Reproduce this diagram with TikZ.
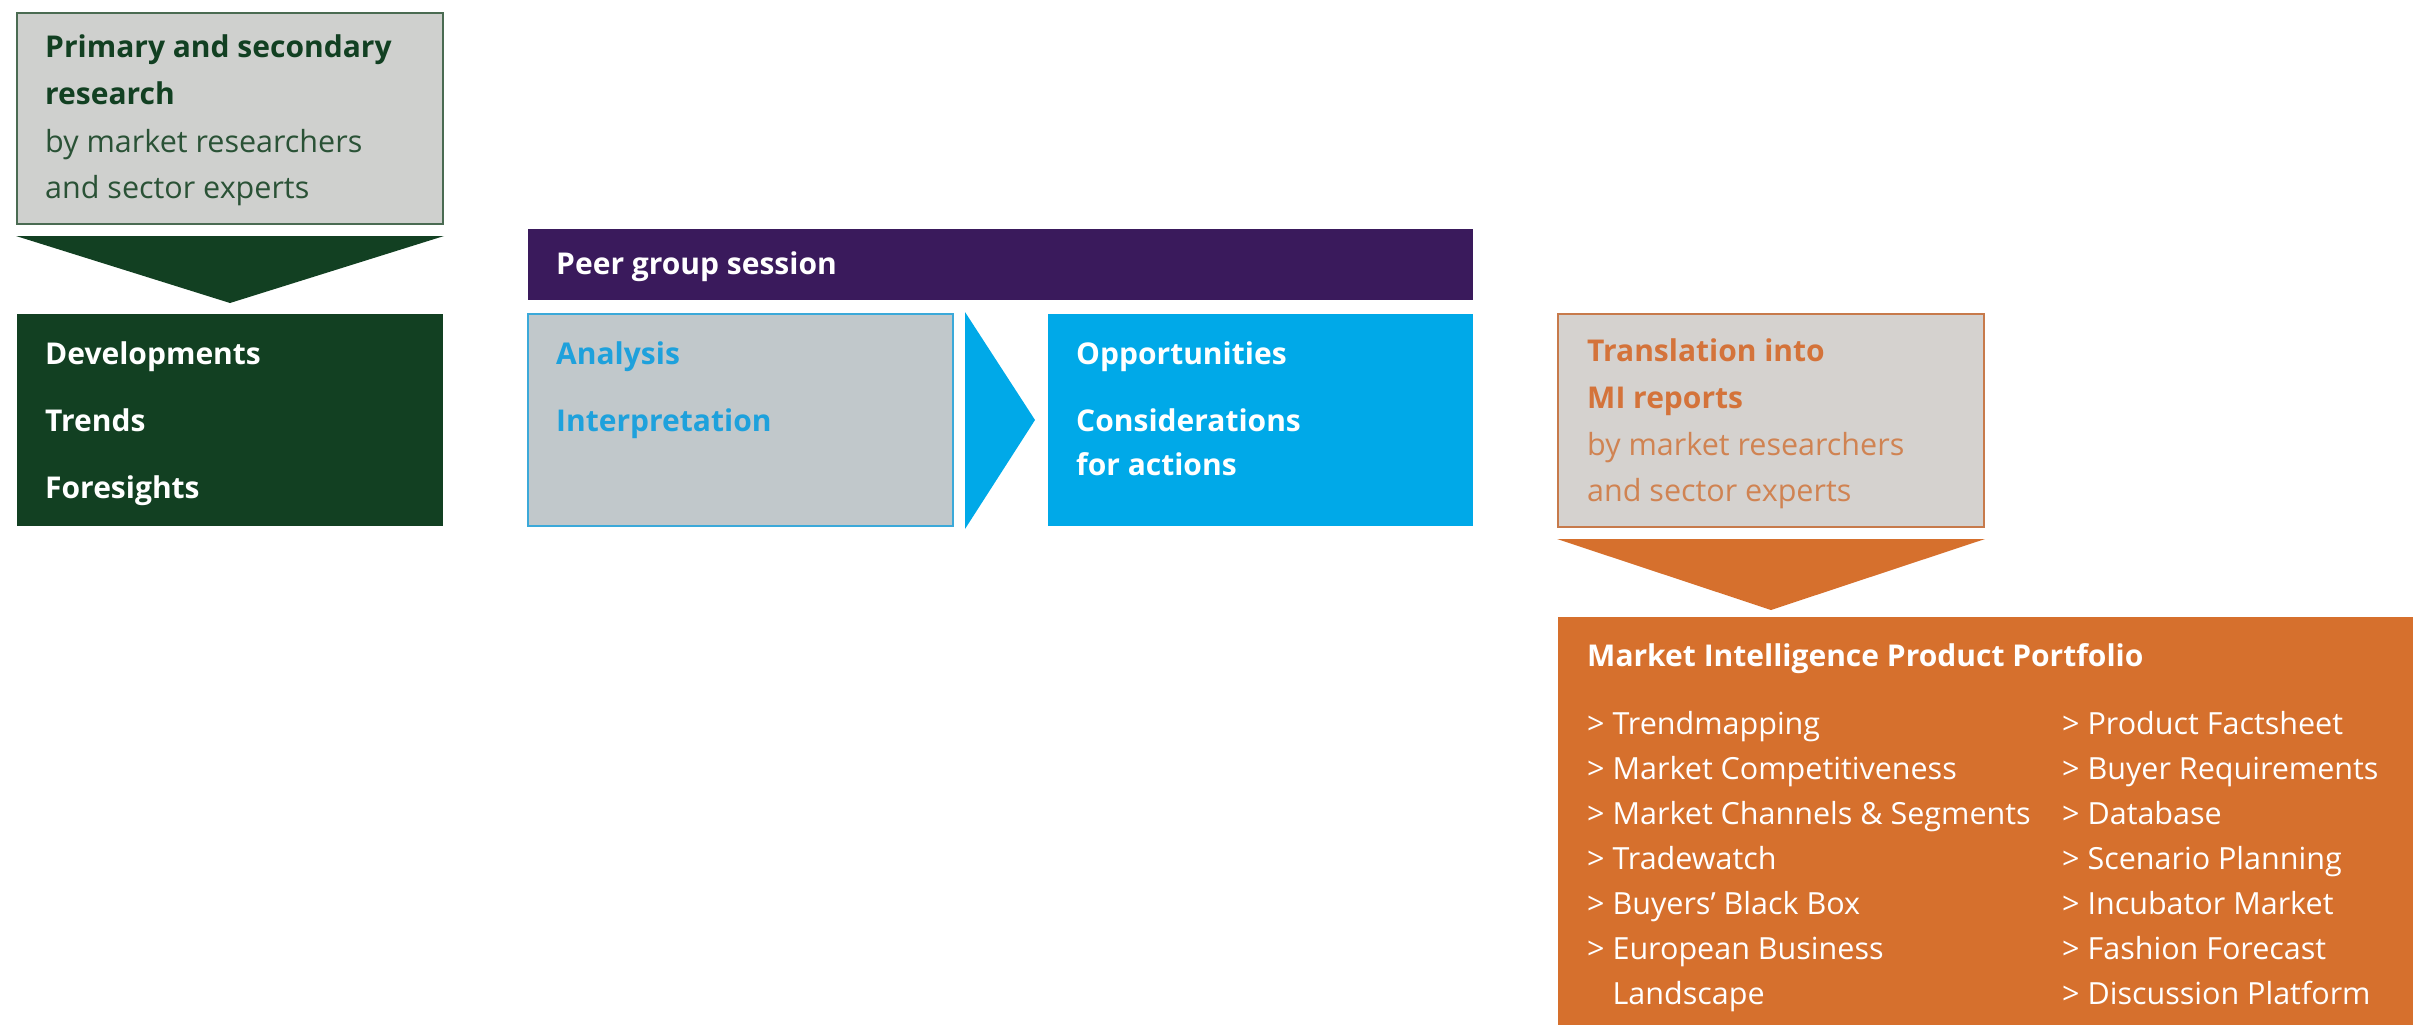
\documentclass[tikz,border=0pt]{standalone}
\usepackage{fontspec}
\setmainfont{Open Sans}
\usetikzlibrary{calc}
\definecolor{dgreen}{HTML}{124022}
\definecolor{gtext}{HTML}{2A5236}
\definecolor{gborder}{HTML}{4A6B52}
\definecolor{ggrey}{HTML}{CFD0CE}
\definecolor{purp}{HTML}{3A1A5C}
\definecolor{bgrey}{HTML}{C1C8CB}
\definecolor{cyanline}{HTML}{3BA9D9}
\definecolor{cyantext}{HTML}{1EA1DC}
\definecolor{cyanfill}{HTML}{00A9E8}
\definecolor{wgrey}{HTML}{D5D2CF}
\definecolor{oline}{HTML}{C77A4B}
\definecolor{otext}{HTML}{D4733A}
\definecolor{otext2}{HTML}{D08352}
\definecolor{ofill}{HTML}{D6702D}
\begin{document}
\begin{tikzpicture}[x=1pt,y=-1pt,
  panel/.style={rectangle, anchor=north west, inner sep=0pt, line width=2pt},
  lbl/.style={anchor=base west, inner sep=0pt, font=\fontsize{30.5}{36}\selectfont},
  blbl/.style={anchor=base west, inner sep=0pt, font=\fontsize{30}{36}\selectfont\bfseries}
]
\useasboundingbox (0,0) rectangle (2413,1025);

% ---------- left column ----------
\node[panel, draw=gborder, fill=ggrey, minimum width=426pt, minimum height=211pt] (prim) at (16,12) {};
\node[blbl, text=dgreen] (p1) at (45,58) {Primary and secondary};
\node[blbl, text=dgreen] (p2) at (45,104) {research};
\node[lbl, text=gtext] (p3) at (45,152) {by market researchers};
\node[lbl, text=gtext] (p4) at (45,198) {and sector experts};

\node[panel, fill=dgreen, minimum width=426pt, minimum height=212pt] (dev) at (16,313) {};
\node[blbl, text=white] (d1) at (45,364) {Developments};
\node[blbl, text=white] (d2) at (45,431) {Trends};
\node[blbl, text=white] (d3) at (45,498) {Foresights};

\coordinate (gA) at ($(prim.south west)+(0,11)$);
\coordinate (gB) at ($(prim.south east)+(0,11)$);
\coordinate (gC) at ($(dev.north)+(0,-10)$);
\fill[dgreen] (gA) -- (gB) -- (gC) -- cycle;

% ---------- middle ----------
\node[panel, fill=purp, minimum width=945pt, minimum height=71pt] (peer) at (527,228) {};
\node[blbl, text=white] (pg) at (556,274) {Peer group session};

\node[panel, draw=cyanline, fill=bgrey, minimum width=425pt, minimum height=212pt] (ana) at (527,313) {};
\node[blbl, text=cyantext] (a1) at (556,364) {Analysis};
\node[blbl, text=cyantext] (a2) at (556,431) {Interpretation};

\node[panel, fill=cyanfill, minimum width=425pt, minimum height=212pt] (opp) at (1047,313) {};
\node[blbl, text=white] (o1) at (1076,364) {Opportunities};
\node[blbl, text=white] (o2) at (1076,431) {Considerations};
\node[blbl, text=white] (o3) at (1076,475) {for actions};

\coordinate (bA) at ($(ana.north east)+(11,-1)$);
\coordinate (bB) at ($(ana.south east)+(11,2)$);
\coordinate (bC) at ($(opp.west)+(-12,0)$);
\fill[cyanfill] (bA) -- (bC) -- (bB) -- cycle;

% ---------- right ----------
\node[panel, draw=oline, fill=wgrey, minimum width=426pt, minimum height=213pt] (trans) at (1557,313) {};
\node[blbl, text=otext] (t1) at (1587,361) {Translation into};
\node[blbl, text=otext] (t2) at (1587,408) {MI reports};
\node[lbl, text=otext2] (t3) at (1587,455) {by market researchers};
\node[lbl, text=otext2] (t4) at (1587,501) {and sector experts};

\node[panel, fill=ofill, minimum width=856pt, minimum height=409pt] (port) at (1557,616) {};
\coordinate (oA) at ($(trans.south west)+(0,11)$);
\coordinate (oB) at ($(trans.south east)+(0,11)$);
\coordinate (oC) at ($(trans.south)+(0,82)$);
\fill[ofill] (oA) -- (oB) -- (oC) -- cycle;

\node[blbl, text=white] (mt) at (1587,666) {Market Intelligence Product Portfolio};
\node[lbl, text=white] (l1) at (1587,734) {> Trendmapping};
\node[lbl, text=white] (l2) at (1587,779) {> Market Competitiveness};
\node[lbl, text=white] (l3) at (1587,824) {> Market Channels \& Segments};
\node[lbl, text=white] (l4) at (1587,869) {> Tradewatch};
\node[lbl, text=white] (l5) at (1587,914) {> Buyers’ Black Box};
\node[lbl, text=white] (l6) at (1587,959) {> European Business};
\node[lbl, text=white] (l7) at (1587,1004) {\phantom{> }Landscape};
\node[lbl, text=white] (r1) at (2062,734) {> Product Factsheet};
\node[lbl, text=white] (r2) at (2062,779) {> Buyer Requirements};
\node[lbl, text=white] (r3) at (2062,824) {> Database};
\node[lbl, text=white] (r4) at (2062,869) {> Scenario Planning};
\node[lbl, text=white] (r5) at (2062,914) {> Incubator Market};
\node[lbl, text=white] (r6) at (2062,959) {> Fashion Forecast};
\node[lbl, text=white] (r7) at (2062,1004) {> Discussion Platform};
\end{tikzpicture}
\end{document}
